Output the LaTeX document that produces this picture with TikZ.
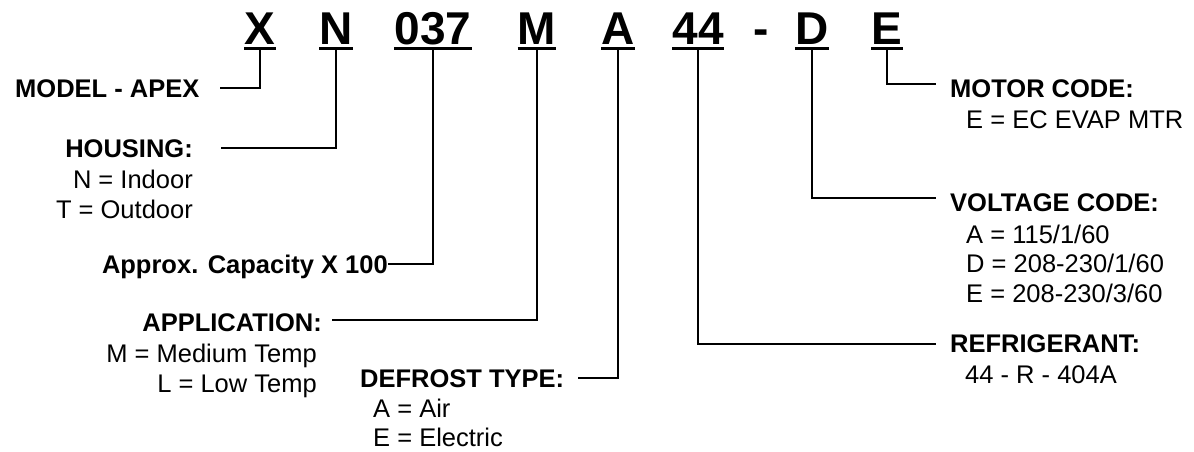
\documentclass[tikz,border=0pt]{standalone}
\usepackage{fontspec}
\setmainfont{Liberation Sans}
\begin{document}
\begin{tikzpicture}[x=1pt,y=-1pt,
  code/.style={inner sep=0pt,anchor=base,font=\fontsize{46}{50}\selectfont\bfseries},
  head/.style={inner sep=0pt,font=\fontsize{25.5}{30}\selectfont\bfseries},
  txt/.style={inner sep=0pt,font=\fontsize{25.5}{30}\selectfont},
  conn/.style={line width=2pt,line cap=rect,line join=miter},
  uline/.style={line width=2.6pt}]
\useasboundingbox (0,0) rectangle (1194,451);
% code letters
\node[code] (cX) at (260,44) {X};
\node[code] (cN) at (336,44) {N};
\node[code] (c037) at (433,44) {037};
\node[code] (cM) at (537,44) {M};
\node[code] (cA) at (618,44) {A};
\node[code] (c44) at (698,44) {44};
\node[code] (cdash) at (761,44) {-};
\node[code] (cD) at (812,44) {D};
\node[code] (cE) at (887,44) {E};
\foreach \n in {cX,cN,c037,cM,cA,c44,cD,cE}{
  \draw[uline] ([yshift=-4.5pt]\n.base west) -- ([yshift=-4.5pt]\n.base east);
}
% labels left
\node[head,anchor=base west] (model) at (15,97) {MODEL - APEX};
\node[head,anchor=base east] (housing) at (193,157) {HOUSING:};
\node[txt,anchor=base east] (hn) at (193,188) {N = Indoor};
\node[txt,anchor=base east] (ht) at (193,218) {T = Outdoor};
\node[head,anchor=base east] (approx) at (388,273) {Approx. Capacity X 100};
\node[head,anchor=base east] (appl) at (322,331) {APPLICATION:};
\node[txt,anchor=base east] (am) at (317,362) {M = Medium Temp};
\node[txt,anchor=base east] (al) at (317,392) {L = Low Temp};
\node[head,anchor=base west] (defrost) at (360,387) {DEFROST TYPE:};
\node[txt,anchor=base west] (da) at (373,417) {A = Air};
\node[txt,anchor=base west] (de) at (373,446.5) {E = Electric};
% labels right
\node[head,anchor=base west] (motor) at (950,97) {MOTOR CODE:};
\node[txt,anchor=base west] (me) at (966,128) {E = EC EVAP MTR};
\node[head,anchor=base west] (volt) at (950,211) {VOLTAGE CODE:};
\node[txt,anchor=base west] (va) at (966,243) {A = 115/1/60};
\node[txt,anchor=base west] (vd) at (966,272) {D = 208-230/1/60};
\node[txt,anchor=base west] (ve) at (966,302) {E = 208-230/3/60};
\node[head,anchor=base west] (refr) at (950,352) {REFRIGERANT:};
\node[txt,anchor=base west] (rr) at (965,383) {44 - R - 404A};
% connector ends
\coordinate (eModel) at (221,88);
\coordinate (eHousing) at (222,148);
\coordinate (eApprox) at (389,264);
\coordinate (eAppl) at (333,320);
\coordinate (eDefrost) at (579,378);
\coordinate (eMotor) at (935,84);
\coordinate (eVolt) at (935,198);
\coordinate (eRefr) at (935,344);
% connectors
\draw[conn] ([yshift=-5.5pt]cX.base) |- (eModel);
\draw[conn] ([yshift=-5.5pt]cN.base) |- (eHousing);
\draw[conn] ([yshift=-5.5pt]c037.base) |- (eApprox);
\draw[conn] ([yshift=-5.5pt]cM.base) |- (eAppl);
\draw[conn] ([yshift=-5.5pt]cA.base) |- (eDefrost);
\draw[conn] ([yshift=-5.5pt]cE.base) |- (eMotor);
\draw[conn] ([yshift=-5.5pt]cD.base) |- (eVolt);
\draw[conn] ([yshift=-5.5pt]c44.base) |- (eRefr);
\end{tikzpicture}
\end{document}
